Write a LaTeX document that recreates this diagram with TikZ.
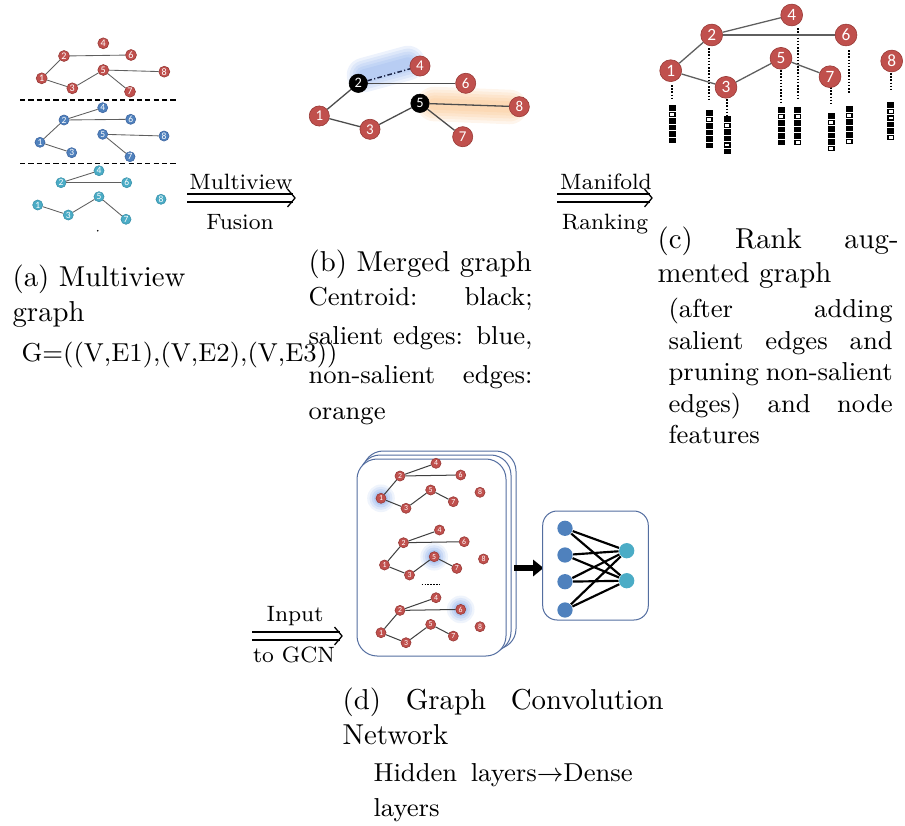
\documentclass[tikz,border=0pt]{standalone}
\usepackage{fontspec}
\newfontfamily\nodefont{Carlito}
\usetikzlibrary{arrows.meta}

\definecolor{gred}{RGB}{192,80,77}
\definecolor{gredd}{RGB}{150,55,52}
\definecolor{gblue}{RGB}{79,129,189}
\definecolor{gblued}{RGB}{60,100,160}
\definecolor{gcyan}{RGB}{75,172,198}
\definecolor{gcyand}{RGB}{55,145,170}
\definecolor{edgegray}{RGB}{95,95,95}
\definecolor{boxline}{RGB}{84,110,160}
\definecolor{glowblue}{RGB}{105,150,230}
\definecolor{gloworange}{RGB}{248,175,100}
\definecolor{navy}{RGB}{25,35,70}

\newcommand\capfont{\fontsize{10}{12}\selectfont}
\newcommand\subfont{\fontsize{9}{11}\selectfont}
\newcommand\lblfont{\fontsize{7.7}{9}\selectfont}

\tikzset{
  vtx/.style={circle,inner sep=0pt,text=white,line width=0.2pt},
  va/.style={vtx,minimum size=3.8pt,font=\nodefont\fontsize{3.5}{4}\selectfont},
  vas/.style={vtx,minimum size=3.5pt,font=\nodefont\fontsize{3.3}{4}\selectfont},
  vb/.style={vtx,minimum size=7pt,fill=gred,draw=gredd,font=\nodefont\fontsize{5.2}{6}\selectfont},
  vk/.style={vtx,minimum size=6.4pt,fill=black,draw=black,font=\nodefont\fontsize{5}{6}\selectfont},
  vc/.style={vtx,minimum size=7.6pt,fill=gred,draw=gredd,font=\nodefont\fontsize{6}{7}\selectfont},
  vd/.style={vtx,minimum size=3.5pt,fill=gred,draw=gredd,font=\nodefont\fontsize{2.7}{3}\selectfont},
  nnl/.style={circle,inner sep=0pt,minimum size=5.3pt,fill=gblue},
  nnr/.style={circle,inner sep=0pt,minimum size=5.3pt,fill=gcyan},
  ea/.style={draw=edgegray,line width=0.3pt},
  eb/.style={draw=edgegray!80!black,line width=0.45pt},
  ec/.style={draw=edgegray,line width=0.45pt},
  ed/.style={draw=black!75,line width=0.35pt},
  nnedge/.style={draw=black,line width=0.75pt},
  sepline/.style={draw=black,line width=0.5pt,dash pattern=on 1.8pt off 1.1pt},
  featdot/.style={draw=black,line width=0.75pt,dash pattern=on 0.55pt off 0.55pt},
  arrline/.style={draw=black,line width=0.45pt},
  stackbox/.style={draw=boxline,fill=white,line width=0.35pt,rounded corners=7pt},
  glowline/.style={line cap=round,opacity=0.12},
  capline/.style={anchor=base west,inner sep=0pt}
}

% "implies"-style double arrow between two named coordinates
\newcommand\implyarrow[2]{%
  \draw[arrline] ([yshift=1.4pt]#1) -- ([yshift=1.4pt,xshift=-0.6pt]#2);
  \draw[arrline] ([yshift=-1.4pt]#1) -- ([yshift=-1.4pt,xshift=-0.6pt]#2);
  \draw[arrline] ([xshift=-2.6pt,yshift=3.1pt]#2) .. controls ([xshift=-0.8pt,yshift=1pt]#2) .. (#2)
     .. controls ([xshift=-0.8pt,yshift=-1pt]#2) .. ([xshift=-2.6pt,yshift=-3.1pt]#2);
}

% feature bar: #1 x, #2 top y, #3 list of cells (1 = black, 0 = white)
\newcommand\featbar[3]{%
  \foreach \c [count=\i] in {#3} {
    \fill[black] (#1-3.5,{#2+(\i-1)*6.5}) rectangle (#1+3.5,{#2+\i*6.5-0.8});
    \ifnum\c=0
      \fill[white] (#1-2,{#2+(\i-1)*6.5+1.5}) rectangle (#1+2,{#2+\i*6.5-2.3});
    \fi
  }
}

\begin{document}
\begin{tikzpicture}[x=0.3472pt,y=-0.3472pt]
\useasboundingbox (0,0) rectangle (905,825);

% ================= (a) multiview graph =================
\foreach \n/\x/\y in {1/41.7/78.3,2/64/56,3/72.3/88.3,4/103.3/43.3,5/103.3/70,6/131/55,7/130/91.7,8/164.3/71.7}
  \node[va,fill=gred,draw=gredd] (ar\n) at (\x,\y) {\n};
\foreach \a/\b in {1/2,1/3,2/6,3/5,5/8,5/7}
  \draw[ea] (ar\a) -- (ar\b);

\foreach \n/\x/\y in {1/40/142.3,2/64/120,3/71.7/152.7,4/102.7/107.7,5/102.7/134.3,6/130.7/119.3,7/130/156.7,8/164/136}
  \node[vas,fill=gblue,draw=gblued] (ab\n) at (\x,\y) {\n};
\foreach \a/\b in {2/4,2/6,1/2,1/3,5/8,5/7}
  \draw[ea] (ab\a) -- (ab\b);

\foreach \n/\x/\y in {1/37.7/205,2/61/182.7,3/68.3/215,4/99/170.7,5/99/196.7,6/126.7/182.7,7/126/219.3,8/161/199.3}
  \node[vas,fill=gcyan,draw=gcyand] (ac\n) at (\x,\y) {\n};
\foreach \a/\b in {2/4,2/6,1/3,3/5,5/7}
  \draw[ea] (ac\a) -- (ac\b);

\coordinate (sepa1) at (20,100);   \coordinate (sepa2) at (177,100);
\coordinate (sepb1) at (20,163.3); \coordinate (sepb2) at (177,163.3);
\draw[sepline] (sepa1) -- (sepa2);
\draw[sepline] (sepb1) -- (sepb2);
\fill[black] (97.7,230.7) circle (0.3pt);

% ================= (b) merged graph =================
\foreach \n/\x/\y in {1/319.3/116,2/358.3/83.3,3/370/129.3,4/420/66,5/420/103.3,6/465.7/83.3,7/462.7/136.7,8/519.3/106.7}
  \coordinate (bp\n) at (\x,\y);
% soft highlight of the salient and non-salient edges
\coordinate (bgb1) at (364,75);  \coordinate (bgb2) at (408,63);
\coordinate (bgo1) at (434,104); \coordinate (bgo2) at (510,107);
\foreach \w in {12,10,8,6,4} {
  \draw[glowline,draw=glowblue,line width=\w pt] (bgb1) -- (bgb2);
  \draw[glowline,draw=gloworange,line width=\w pt] (bgo1) -- (bgo2);
}
\foreach \n in {1,3,4,6,7,8}
  \node[vb] (b\n) at (bp\n) {\n};
\node[vk] (b2) at (bp2) {2};
\node[vk] (b5) at (bp5) {5};
\foreach \a/\b in {2/6,1/2,1/3,3/5,5/8,5/7}
  \draw[eb] (b\a) -- (b\b);
\draw[draw=navy,line width=0.5pt,dash pattern=on 1.6pt off 0.8pt on 0.4pt off 0.8pt] (b2) -- (b4);

% ================= (c) rank augmented graph =================
% dotted links from nodes to their feature vectors
\foreach \k/\x/\ya/\yb in {1/672.3/85/98,2/709/48/101.7,3/727.3/99/115,5/781/70/103,4/797.7/28/100,7/831/87/106,6/849.3/50/94,8/890.7/73/92} {
  \coordinate (fd\k a) at (\x,\ya);
  \coordinate (fd\k b) at (\x,\yb);
  \draw[featdot] (fd\k a) -- (fd\k b);
}
\featbar{672.3}{105}{1,0,1,1,1,1}
\featbar{709}{110}{1,0,1,1,1,1}
\featbar{727.3}{116}{1,0,1,1,0,1}
\featbar{781}{107}{1,0,1,1,1,1}
\featbar{797.7}{107}{1,0,1,1,1,0}
\featbar{831}{113}{1,0,1,1,1,0}
\featbar{849.3}{106}{1,0,1,1,1,0}
\featbar{890.7}{102}{1,0,0,1,1,0}

\foreach \n/\x/\y in {1/670.7/70.7,2/711.7/35,3/726/87.3,4/791.7/15,5/781/58.3,6/846/35,7/830/76.7,8/891.7/61}
  \node[vc] (c\n) at (\x,\y) {\n};
\foreach \a/\b in {2/4,2/6,1/2,1/3,3/5,5/7}
  \draw[ec] (c\a) -- (c\b);

% ================= arrows between stages =================
\coordinate (mvS) at (187,198); \coordinate (mvE) at (295,198);
\implyarrow{mvS}{mvE}
\node[anchor=base,inner sep=0pt,font=\lblfont] (mvt) at (241,189) {Multiview};
\node[anchor=base,inner sep=0pt,font=\lblfont] (mvb) at (240,229) {Fusion};

\coordinate (mrS) at (557,198); \coordinate (mrE) at (652,198);
\implyarrow{mrS}{mrE}
\node[anchor=base,inner sep=0pt,font=\lblfont] (mrt) at (606,189) {Manifold};
\node[anchor=base,inner sep=0pt,font=\lblfont] (mrb) at (605,229) {Ranking};

\coordinate (gcS) at (252,636); \coordinate (gcE) at (342,636);
\implyarrow{gcS}{gcE}
\node[anchor=base,inner sep=0pt,font=\lblfont] (gct) at (295,621) {Input};
\node[anchor=base,inner sep=0pt,font=\lblfont] (gcb) at (294,662) {to GCN};

% ================= (d) graph convolution network =================
\draw[stackbox] (363,451) rectangle (516,649);
\draw[stackbox] (360,455) rectangle (511,652);
\draw[stackbox] (357,459) rectangle (506,656);

\foreach \g/\sx/\sy/\hl in {1/0/0/1,2/3.5/66.7/5,3/0/134.4/6} {
  \begin{scope}[shift={(\sx,\sy)}]
    \foreach \n/\x/\y in {1/381/498.3,2/400/476,3/406/508.3,4/436/463.3,5/430.7/490,6/460.7/475,7/453.3/501.7,8/480/492.3}
      \coordinate (dp\g n\n) at (\x,\y);
    \foreach \r/\o in {4.8/0.10,4.0/0.13,3.2/0.17,2.4/0.22}
      \fill[glowblue,opacity=\o] (dp\g n\hl) circle (\r pt);
    \foreach \n in {1,...,8}
      \node[vd] (d\g n\n) at (dp\g n\n) {\n};
    \foreach \a/\b in {2/4,2/6,1/2,1/3,3/5,5/7}
      \draw[ed] (d\g n\a) -- (d\g n\b);
  \end{scope}
}
\coordinate (ell1) at (421.7,584.3); \coordinate (ell2) at (440,584.3);
\draw[draw=black,line width=0.5pt,dash pattern=on 0.5pt off 0.5pt] (ell1) -- (ell2);

% bold arrow into the dense layers
\coordinate (bas) at (514,568); \coordinate (bae) at (543.5,568);
\draw[line width=2.4pt,-{Triangle[length=3.6pt,width=5.6pt]}] (bas) -- (bae);

% dense layers
\draw[draw=boxline,fill=white,line width=0.35pt,rounded corners=5pt] (542.7,511) rectangle (648.3,620);
\foreach \n/\y in {1/528.3,2/555,3/581.7,4/610}
  \node[nnl] (inl\n) at (565,\y) {};
\foreach \n/\y in {1/550.7,2/580.7}
  \node[nnr] (outl\n) at (626.7,\y) {};
\foreach \a in {1,...,4}
  \foreach \b in {1,2}
    \draw[nnedge] (inl\a) -- (outl\b);

% ================= captions =================
\node[capline,font=\capfont] (capa1) at (12,286) {(a) Multiview};
\node[capline,font=\capfont] (capa2) at (12,321) {graph};
\node[capline,font=\subfont] (suba1) at (21,361) {G=((V,E1),(V,E2),(V,E3))};

\node[capline,font=\capfont] (capb1) at (308,271) {(b) Merged graph};
\node[capline,font=\subfont] (subb1) at (308,305) {\makebox[77.8pt][s]{Centroid: black;}};
\node[capline,font=\subfont] (subb2) at (308,344) {\makebox[77.8pt][s]{salient edges: blue,}};
\node[capline,font=\subfont] (subb3) at (308,383) {\makebox[77.8pt][s]{non-salient edges:}};
\node[capline,font=\subfont] (subb4) at (308,419) {orange};

\node[capline,font=\capfont] (capc1) at (657,248) {\makebox[83.7pt][s]{(c) Rank aug-}};
\node[capline,font=\capfont] (capc2) at (657,282) {mented graph};
\node[capline,font=\subfont] (subc1) at (668,317) {\makebox[77.8pt][s]{(after adding}};
\node[capline,font=\subfont] (subc2) at (668,349) {\makebox[77.8pt][s]{salient edges and}};
\node[capline,font=\subfont] (subc3) at (668,380) {\makebox[77.8pt][s]{pruning non-salient}};
\node[capline,font=\subfont] (subc4) at (668,412) {\makebox[77.8pt][s]{edges) and node}};
\node[capline,font=\subfont] (subc5) at (668,443) {features};

\node[capline,font=\capfont] (capd1) at (342,709) {\makebox[111.5pt][s]{(d) Graph Convolution}};
\node[capline,font=\capfont] (capd2) at (342,744) {Network};
\node[capline,font=\subfont] (subd1) at (373,781) {\makebox[90pt][s]{Hidden layers$\rightarrow$Dense}};
\node[capline,font=\subfont] (subd2) at (373,816) {layers};

\end{tikzpicture}
\end{document}
